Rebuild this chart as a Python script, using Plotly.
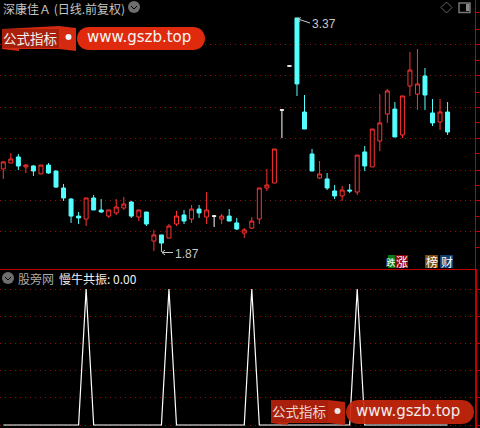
import plotly.graph_objects as go
import math

W, H = 480, 428
BG = "#000000"
RED = "#ff3232"
CYAN = "#54ffff"
GRID = "#8c0f0f"
AXIS = "#c00000"
CJK = "Noto Sans CJK SC"

high = [2.453,2.504,2.498,2.434,2.427,2.427,2.440,2.389,2.306,2.216,
        2.126,2.216,2.235,2.209,2.139,2.209,2.222,2.197,2.139,2.126,
        2.011,1.979,2.049,2.133,2.139,2.171,2.171,2.254,2.107,2.113,
        2.145,2.088,2.023,2.094,2.280,2.402,2.530,2.780,3.062,3.370,
        2.876,2.530,2.453,2.376,2.299,2.293,2.306,2.491,2.549,2.658,
        2.882,2.915,2.831,2.870,3.152,3.171,3.049,2.850,2.850,2.831]
low = [2.338,2.440,2.395,2.376,2.357,2.370,2.370,2.280,2.197,2.056,
       2.049,2.036,2.139,2.120,2.088,2.107,2.139,2.088,2.068,2.036,
       1.876,1.870,1.959,2.036,2.049,2.056,2.088,2.049,2.030,2.049,
       2.068,2.011,1.959,2.017,2.049,2.261,2.312,2.600,3.062,2.870,
       2.658,2.389,2.338,2.267,2.209,2.197,2.248,2.235,2.389,2.415,
       2.517,2.697,2.607,2.600,2.870,2.780,2.780,2.677,2.652,2.620]
open_ = [2.402,2.440,2.479,2.415,2.421,2.370,2.427,2.389,2.280,2.209,
         2.100,2.081,2.216,2.139,2.100,2.120,2.152,2.190,2.094,2.126,
         1.940,1.979,1.959,2.049,2.107,2.081,2.145,2.094,2.100,2.081,
         2.100,2.056,1.991,2.023,2.081,2.280,2.312,2.780,3.062,3.370,
         2.767,2.498,2.344,2.338,2.261,2.229,2.267,2.254,2.511,2.415,
         2.581,2.754,2.786,2.620,2.934,2.882,2.998,2.761,2.703,2.767]
close = [2.447,2.466,2.421,2.427,2.389,2.427,2.376,2.286,2.216,2.100,
         2.088,2.216,2.139,2.126,2.139,2.158,2.177,2.100,2.139,2.049,
         1.979,1.927,2.036,2.100,2.068,2.145,2.120,2.139,2.100,2.100,
         2.068,2.017,2.011,2.068,2.280,2.299,2.530,2.780,3.062,2.947,
         2.658,2.389,2.370,2.280,2.229,2.267,2.261,2.491,2.421,2.658,
         2.697,2.902,2.607,2.870,3.036,2.947,2.876,2.697,2.767,2.639]
doji_days = [28, 37, 38]
resonance = [0,0,0,0,0,0,0,0,0,0,0,5,0,0,0,0,0,0,0,0,
             0,0,5,0,0,0,0,0,0,0,0,0,0,5,0,0,0,0,0,0,
             0,0,0,0,0,0,0,5,0,0,0,0,0,0,0,0,0,0,0,0]
price_ticks = [3.197, 2.998, 2.799, 2.600, 2.395, 2.197, 1.998]
price_minor = [3.402, 3.295, 3.095, 2.895, 2.697, 2.498, 2.299, 2.100, 1.900]
res_ticks = [0, 1, 2, 3, 4, 5]
title_top = "深康佳Ａ (日线.前复权)"
title_sub = "股旁网"
indicator = "慢牛共振: 0.00"
watermark = "公式指标"
site = "www.gszb.top"
hi_label, lo_label = "3.37", "1.87"
days = list(range(len(high)))

normal = [i for i in days if i not in doji_days]

def pick(a, idx):
    return [a[i] for i in idx]

fig = go.Figure()
fig.add_trace(go.Candlestick(
    x=normal, open=pick(open_, normal), high=pick(high, normal),
    low=pick(low, normal), close=pick(close, normal),
    increasing=dict(line=dict(color=RED, width=1), fillcolor=BG),
    decreasing=dict(line=dict(color=CYAN, width=1), fillcolor=CYAN),
    whiskerwidth=0, hoverinfo="skip", xaxis="x", yaxis="y"))
fig.add_trace(go.Candlestick(
    x=doji_days, open=pick(open_, doji_days), high=pick(high, doji_days),
    low=pick(low, doji_days), close=pick(close, doji_days),
    increasing=dict(line=dict(color="#ffffff", width=1), fillcolor="#ffffff"),
    decreasing=dict(line=dict(color="#ffffff", width=1), fillcolor="#ffffff"),
    whiskerwidth=0, hoverinfo="skip", xaxis="x", yaxis="y"))
fig.add_trace(go.Scatter(
    x=days, y=resonance, mode="lines", line=dict(color="#ffffff", width=1.2),
    hoverinfo="skip", xaxis="x2", yaxis="y2"))


def px(x):
    return x / W


def py(y):
    return 1 - y / H


def poly(points, color, opacity=1.0):
    d = "M" + " L".join(f"{px(a):.5f},{py(b):.5f}" for a, b in points) + " Z"
    return dict(type="path", xref="paper", yref="paper", path=d,
                fillcolor=color, opacity=opacity, line=dict(width=0), layer="above")


def pill(x0, x1, y0, y1, color, opacity=1.0):
    r = (y1 - y0) / 2
    pts = []
    for k in range(0, 13):
        t = -math.pi / 2 + math.pi * k / 12
        pts.append((x1 - r + r * math.cos(t), y0 + r + r * math.sin(t)))
    for k in range(0, 13):
        t = math.pi / 2 + math.pi * k / 12
        pts.append((x0 + r + r * math.cos(t), y0 + r + r * math.sin(t)))
    return poly(pts, color, opacity)


def rect(x0, y0, x1, y1, color, line=None):
    return dict(type="rect", xref="paper", yref="paper", x0=px(x0), x1=px(x1),
                y0=py(y0), y1=py(y1), fillcolor=color, layer="above",
                line=dict(width=0) if line is None else dict(color=line, width=1.5))


def seg(x0, y0, x1, y1, color, width=1):
    return dict(type="line", xref="paper", yref="paper", x0=px(x0), x1=px(x1),
                y0=py(y0), y1=py(y1), line=dict(color=color, width=width), layer="above")


def circ(cx, cy, r, color):
    return dict(type="circle", xref="paper", yref="paper", x0=px(cx - r), x1=px(cx + r),
                y0=py(cy + r), y1=py(cy - r), fillcolor=color, line=dict(width=0), layer="above")


def text(x, y, s, size, color, anchor="left", family=CJK):
    return dict(xref="paper", yref="paper", x=px(x), y=py(y), text=s, showarrow=False,
                xanchor=anchor, yanchor="middle", font=dict(size=size, color=color, family=family),
                borderpad=0, borderwidth=0)


shapes = [
    seg(0, 269.5, 475, 269.5, AXIS, 1),
    # header chevron buttons
    circ(134, 7, 6, "#6e6e6e"), seg(131, 6, 134, 9, "#000000", 1), seg(134, 9, 137, 6, "#000000", 1),
    circ(8, 278, 6, "#6e6e6e"), seg(5, 277, 8, 280, "#000000", 1), seg(8, 280, 11, 277, "#000000", 1),
    # toolbar icons
    seg(446.5, 2, 452, 7.5, "#666666"), seg(452, 7.5, 446.5, 13, "#666666"),
    seg(446.5, 13, 441, 7.5, "#666666"), seg(441, 7.5, 446.5, 2, "#666666"),
    dict(type="rect", xref="paper", yref="paper", x0=px(459), x1=px(470), y0=py(3), y1=py(12.5),
         line=dict(color="#777777", width=1.5), fillcolor=BG, layer="above"),
    rect(466, 4, 469.5, 11, "#8a8a8a"),
    # price callouts
    seg(298, 19, 310, 23, "#c8c8c8"), seg(298, 19, 301, 17.5, "#c8c8c8"), seg(298, 19, 300, 22, "#c8c8c8"),
    seg(162, 252.5, 173, 252.5, "#c8c8c8"), seg(162, 252.5, 165, 250, "#c8c8c8"), seg(162, 252.5, 165, 255, "#c8c8c8"),
    # corner tags
    rect(388, 255, 395, 268, "#0a7a14"), rect(395, 255, 408, 268, "#8a0a0a"),
    rect(425, 255, 438, 268, "#7a4a14"), rect(440, 255, 453, 268, "#123c6e"),
    # top watermark
    poly([(2, 29), (59, 26), (76, 28), (76, 51), (59, 49), (19, 49), (19, 51), (2, 49)], "#d42a10"),
    rect(2, 29, 59, 48, "#a8200c"),
    circ(68.5, 37, 3, "#f4f4f4"),
    pill(77, 205, 27, 50, "#e02a0d"),
    # bottom watermark
    poly([(271, 400), (328, 400), (345, 402), (345, 425), (328, 423), (288, 423), (288, 425), (271, 423)], "#c8260c", 0.92),
    rect(271, 400, 328, 422, "#a8200c"),
    circ(337.5, 411, 3, "#e8e8e8"),
    pill(346, 474, 400, 424, "#c8260c", 0.92),
]

annotations = [
    text(3, 8, title_top, 12, "#c4c4c4"),
    text(18, 278, title_sub, 12, "#a8a8a8"),
    text(59, 278, indicator, 12, "#f0f0f0"),
    text(312, 24, hi_label, 12, "#c8c8c8", family="Liberation Sans"),
    text(175, 254, lo_label, 12, "#c8c8c8", family="Liberation Sans"),
    text(3, 38, watermark, 13.5, "#f4f0ee"),
    text(87, 37, site, 15, "#f6f6f6", family="DejaVu Sans"),
    text(272, 411, watermark, 13.5, "#e8d8d4"),
    text(356, 411, site, 15, "#eeeeee", family="DejaVu Sans"),
    text(390.5, 261.5, "跌", 9.5, "#ffffff", "center"),
    text(402, 261.5, "涨", 12, "#ffffff", "center"),
    text(431.5, 261.5, "榜", 12, "#ffffff", "center"),
    text(446.5, 261.5, "财", 12, "#ffffff", "center"),
]

x_left = -3.3 / 7.53
x_right = (475 - 3.3) / 7.53
x_axis = dict(range=[x_left, x_right], showgrid=False, zeroline=False, showticklabels=False,
              ticks="", showline=False, fixedrange=True, rangeslider=dict(visible=False))
dots = "1px,4px"

fig.update_layout(
    width=W, height=H, autosize=False, showlegend=False,
    margin=dict(l=0, r=0, t=0, b=0, pad=0),
    paper_bgcolor=BG, plot_bgcolor=BG,
    boxgap=0.25,
    xaxis=dict(domain=[0, 475 / W], anchor="y", **x_axis),
    xaxis2=dict(domain=[0, 475 / W], anchor="y2", **x_axis),
    yaxis=dict(domain=[1 - 269 / H, 1], range=[3.485 - 0.00641 * 269, 3.485], anchor="x", side="right",
               tickmode="array", tickvals=price_ticks, showticklabels=False,
               ticks="outside", ticklen=5, tickcolor=AXIS, tickwidth=1,
               showline=True, linecolor=AXIS, linewidth=1, zeroline=False,
               showgrid=True, gridcolor=GRID, griddash=dots, gridwidth=1,
               minor=dict(tickmode="array", tickvals=price_minor, ticks="outside", ticklen=3,
                          tickcolor=AXIS, tickwidth=1, showgrid=False)),
    yaxis2=dict(domain=[0, 159 / H], range=[-3 / 27.2, 156 / 27.2], anchor="x2", side="right",
                tickmode="array", tickvals=res_ticks, showticklabels=False,
                ticks="outside", ticklen=5, tickcolor=AXIS, tickwidth=1,
                showline=True, linecolor=AXIS, linewidth=2, zeroline=False,
                showgrid=True, gridcolor=GRID, griddash=dots, gridwidth=1),
    shapes=shapes, annotations=annotations,
)
fig.write_html("out.html", config=dict(displayModeBar=False),
               post_script="document.body.style.margin='0';document.body.style.background='#000';document.body.style.overflow='hidden';")
